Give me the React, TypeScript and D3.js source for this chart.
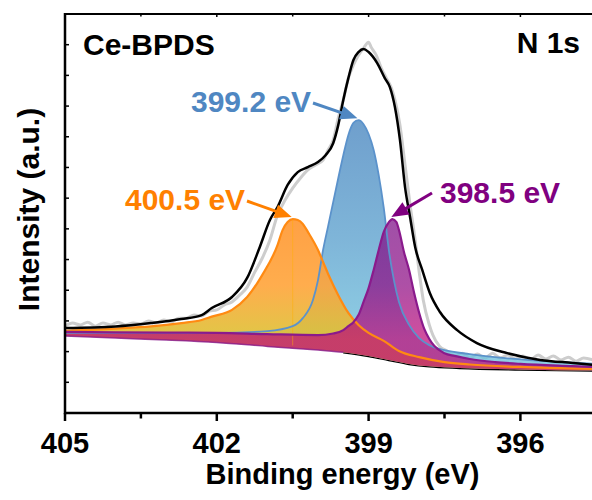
import * as d3 from 'd3';

type Pt = [number, number];

// binding energy (eV), intensity (a.u.)
const rawSpectrum: Pt[] = [
  [405.0, 2.83], [404.85, 2.93], [404.7, 2.87], [404.55, 2.96], [404.4, 2.83], [404.25, 2.93],
  [404.1, 2.87], [403.95, 2.96], [403.8, 2.87], [403.65, 2.93], [403.5, 2.9], [403.35, 3.0],
  [403.2, 2.93], [403.05, 3.03], [402.9, 2.96], [402.75, 3.09], [402.6, 3.09], [402.45, 3.19],
  [402.3, 3.16], [402.15, 3.32], [402.0, 3.36], [401.85, 3.52], [401.7, 3.62], [401.55, 3.84],
  [401.4, 4.1], [401.25, 4.59], [401.1, 5.05], [400.95, 5.64], [400.8, 6.45], [400.65, 6.94],
  [400.5, 7.33], [400.35, 7.65], [400.2, 7.92], [400.05, 8.08], [399.9, 8.24], [399.8, 8.57],
  [399.7, 8.89], [399.6, 9.61], [399.5, 10.2], [399.4, 10.91], [399.3, 11.34], [399.2, 11.66],
  [399.1, 11.89], [399.0, 12.08], [398.95, 11.92], [398.85, 11.66], [398.75, 11.24], [398.65, 10.91],
  [398.55, 10.59], [398.48, 10.2], [398.38, 9.38], [398.28, 8.08], [398.18, 6.78], [398.08, 5.64],
  [398.0, 4.59], [397.92, 3.68], [397.8, 2.87], [397.73, 2.54], [397.6, 2.18], [397.45, 2.02],
  [397.3, 1.86], [397.15, 1.95], [397.0, 1.79], [396.85, 1.92], [396.7, 1.79], [396.55, 1.95],
  [396.4, 1.79], [396.25, 1.89], [396.1, 1.76], [395.95, 1.86], [395.8, 1.73], [395.65, 1.89],
  [395.5, 1.76], [395.35, 1.86], [395.2, 1.73], [395.05, 1.82], [394.9, 1.69], [394.75, 1.79],
  [394.5, 1.69],
];

const envelope: Pt[] = [
  [405.0, 2.77], [404.0, 2.82], [403.3, 2.93], [402.7, 3.06], [402.3, 3.19], [402.1, 3.42],
  [401.7, 3.78], [401.4, 4.4], [401.15, 5.41], [400.95, 6.29], [400.8, 6.71], [400.6, 7.43],
  [400.4, 7.85], [400.2, 8.01], [400.0, 8.18], [399.85, 8.4], [399.7, 8.79], [399.6, 9.38],
  [399.5, 10.2], [399.4, 10.91], [399.3, 11.5], [399.2, 11.76], [399.1, 11.86], [399.0, 11.76],
  [398.83, 11.4], [398.68, 10.91], [398.58, 10.62], [398.48, 9.97], [398.38, 8.89], [398.28, 7.36],
  [398.18, 6.38], [398.08, 5.41], [397.94, 4.66], [397.79, 3.91], [397.59, 3.29], [397.25, 2.7],
  [396.86, 2.28], [396.26, 1.95], [395.61, 1.73], [394.96, 1.63], [394.5, 1.56],
];

const background: Pt[] = [
  [405.0, 2.51], [404.0, 2.44], [403.0, 2.38], [402.0, 2.3], [401.0, 2.17], [400.0, 2.05],
  [399.5, 1.98], [399.0, 1.86], [398.6, 1.73], [398.2, 1.6], [397.8, 1.52], [397.2, 1.47],
  [396.0, 1.42], [394.5, 1.38],
];

const peak4005: Pt[] = [
  [405.0, 2.68], [404.0, 2.75], [403.3, 2.82], [402.7, 2.93], [402.3, 3.03], [402.1, 3.14],
  [401.7, 3.36], [401.4, 3.78], [401.1, 4.5], [400.8, 5.47], [400.7, 5.96], [400.6, 6.22],
  [400.5, 6.32], [400.4, 6.29], [400.3, 6.16], [400.2, 5.9], [400.0, 5.31], [399.9, 4.92],
  [399.8, 4.53], [399.6, 3.84], [399.4, 3.26], [399.2, 2.87], [399.0, 2.61], [398.7, 2.35],
  [398.4, 2.02], [398.0, 1.82], [397.5, 1.66], [397.0, 1.58], [396.0, 1.5], [394.5, 1.43],
];

const peak3992: Pt[] = [
  [405.0, 2.61], [402.0, 2.61], [401.0, 2.67], [400.5, 2.83], [400.3, 3.09], [400.1, 3.68],
  [400.0, 4.33], [399.9, 5.31], [399.8, 6.09], [399.7, 6.87], [399.6, 7.65], [399.5, 8.4],
  [399.4, 9.06], [399.3, 9.45], [399.2, 9.54], [399.1, 9.41], [399.0, 9.09], [398.9, 8.57],
  [398.8, 7.75], [398.7, 6.68], [398.6, 5.31], [398.5, 4.33], [398.4, 3.62], [398.2, 2.87],
  [398.0, 2.44], [397.8, 2.21], [397.5, 2.05], [397.0, 1.92], [396.3, 1.79], [395.5, 1.69],
  [394.5, 1.6],
];

const peak3985: Pt[] = [
  [405.0, 2.64], [403.0, 2.62], [402.0, 2.61], [401.0, 2.57], [400.0, 2.54], [399.7, 2.59],
  [399.5, 2.7], [399.4, 2.83], [399.3, 2.96], [399.2, 3.19], [399.1, 3.62], [399.0, 4.07],
  [398.9, 4.66], [398.8, 5.31], [398.7, 5.9], [398.6, 6.22], [398.53, 6.32], [398.45, 6.22],
  [398.4, 5.96], [398.3, 5.24], [398.2, 4.66], [398.1, 3.91], [398.0, 3.26], [397.9, 2.74],
  [397.8, 2.41], [397.7, 2.18], [397.5, 1.95], [397.3, 1.86], [397.0, 1.76], [396.5, 1.66],
  [396.0, 1.6], [395.0, 1.53], [394.5, 1.5],
];

const xMajorTicks = [405, 402, 399, 396];
const xMinorTicks = [403.5, 400.5, 397.5];
const yTicks = [1, 2, 3, 4, 5, 6, 7, 8, 9, 10, 11, 12];

const FONT = 'Liberation Sans, Arial, Helvetica, sans-serif';

const x = d3.scaleLinear().domain([405, 394]).range([65, 65 + 11 * 50.6]);
const y = d3.scaleLinear().domain([0, 13]).range([413, 14]);

const line = d3.line<Pt>()
  .x(d => x(d[0]))
  .y(d => y(d[1]))
  .curve(d3.curveMonotoneX);

function areaPath(pts: Pt[]) {
  const top = line(pts) ?? '';
  const bottom = line([...background].reverse()) ?? '';
  return `${top}L${bottom.slice(1)}Z`;
}

function Arrow({ x1, y1, x2, y2, color }: { x1: number; y1: number; x2: number; y2: number; color: string }) {
  const len = Math.hypot(x2 - x1, y2 - y1);
  const ux = (x2 - x1) / len;
  const uy = (y2 - y1) / len;
  const head = 17;
  const half = 7;
  const bx = x2 - ux * head;
  const by = y2 - uy * head;
  const pts = [
    [x2, y2],
    [bx - uy * half, by + ux * half],
    [bx + uy * half, by - ux * half],
  ].map(p => p.join(',')).join(' ');
  return (
    <g>
      <line x1={x1} y1={y1} x2={bx + ux * 2} y2={by + uy * 2} stroke={color} strokeWidth={3} />
      <polygon points={pts} fill={color} />
    </g>
  );
}

const peaks = [
  { id: 'p3992', data: peak3992, stroke: '#5b92cb', strokeWidth: 1.8, stops: ['#4b87c0', '#5fa3cf', '#72c2dd'], opacity: 0.8 },
  { id: 'p4005', data: peak4005, stroke: '#ff8a12', strokeWidth: 2.2, stops: ['#ff9630', '#ffa43a', '#dcc232'], opacity: 0.9 },
  { id: 'p3985', data: peak3985, stroke: '#8a1a8c', strokeWidth: 2.2, stops: ['#7b0c86', '#8e0c84', '#c00a78'], opacity: 0.72 },
];

const labels = [
  { text: '399.2 eV', color: '#4f87c2', tx: 191, ty: 112, ax: 313, ay: 103, be: 399.2, data: peak3992 },
  { text: '400.5 eV', color: '#ff8000', tx: 125, ty: 210, ax: 247, ay: 201, be: 400.5, data: peak4005 },
  { text: '398.5 eV', color: '#800080', tx: 440, ty: 203, ax: 432, ay: 193, be: 398.53, data: peak3985 },
];

export default function App() {
  const bgVisible = background.filter(d => d[0] <= 399.5);
  return (
    <svg width={592} height={500} style={{ position: 'absolute', left: 0, top: 0, background: '#fff' }}
      fontFamily={FONT}>
      <defs>
        {peaks.map(p => (
          <linearGradient key={p.id} id={`g-${p.id}`} gradientUnits="userSpaceOnUse"
            x1={0} x2={0} y1={y(d3.max(p.data, d => d[1]) ?? 0)} y2={y(2.4)}>
            <stop offset="0" stopColor={p.stops[0]} />
            <stop offset="0.55" stopColor={p.stops[1]} />
            <stop offset="1" stopColor={p.stops[2]} />
          </linearGradient>
        ))}
        <clipPath id="plot">
          <rect x={65} y={14} width={600} height={399} />
        </clipPath>
      </defs>

      <g clipPath="url(#plot)">
        <path d={line(rawSpectrum) ?? ''} fill="none" stroke="#cdcdcd" strokeWidth={3} />
        <path d={line(bgVisible) ?? ''} fill="none" stroke="#000" strokeWidth={2.5} />
        {peaks.map(p => (
          <path key={p.id} d={areaPath(p.data)} fill={`url(#g-${p.id})`} fillOpacity={p.opacity} />
        ))}
        <line x1={x(400.5)} x2={x(400.5)} y1={y(6.3)} y2={y(2.2)} stroke="#ffb000" strokeWidth={0.8} opacity={0.6} />
        {peaks.map(p => (
          <path key={p.id + 's'} d={line(p.data) ?? ''} fill="none" stroke={p.stroke} strokeWidth={p.strokeWidth} />
        ))}
        <path d={line(background.filter(d => d[0] >= 399.3)) ?? ''} fill="none" stroke="#8a1a8c" strokeWidth={1.5} opacity={0.8} />
        <path d={line(envelope) ?? ''} fill="none" stroke="#000" strokeWidth={2.5} />
      </g>

      {/* axes frame */}
      <line x1={65} x2={600} y1={14} y2={14} stroke="#000" strokeWidth={2} />
      <line x1={65} x2={65} y1={13} y2={414.2} stroke="#000" strokeWidth={2.5} />
      <line x1={64} x2={600} y1={413} y2={413} stroke="#000" strokeWidth={2.5} />

      {yTicks.map(t => (
        <line key={t} x1={65} x2={69} y1={y(t)} y2={y(t)} stroke="#000" strokeWidth={1.5} />
      ))}
      {xMajorTicks.map(t => (
        <g key={t}>
          <line x1={x(t)} x2={x(t)} y1={413} y2={421} stroke="#000" strokeWidth={2.5} />
          <line x1={x(t)} x2={x(t)} y1={14} y2={17} stroke="#000" strokeWidth={1.5} />
          <text x={x(t)} y={453} textAnchor="middle" fontSize={29} fontWeight="bold">{t}</text>
        </g>
      ))}
      {xMinorTicks.map(t => (
        <g key={t}>
          <line x1={x(t)} x2={x(t)} y1={413} y2={418.5} stroke="#000" strokeWidth={2.5} />
          <line x1={x(t)} x2={x(t)} y1={14} y2={16.5} stroke="#000" strokeWidth={1.5} />
        </g>
      ))}

      <text x={342.5} y={484} textAnchor="middle" fontSize={29} fontWeight="bold">Binding energy (eV)</text>
      <text transform="translate(39,209.5) rotate(-90)" textAnchor="middle" fontSize={30} fontWeight="bold">
        Intensity (a.u.)
      </text>

      <text x={83} y={55} fontSize={30} fontWeight="bold">Ce-BPDS</text>
      <text x={580} y={53} fontSize={30} fontWeight="bold" textAnchor="end">N 1s</text>

      {labels.map(l => {
        const top = d3.max(l.data, d => d[1]) ?? 0;
        return (
          <g key={l.text}>
            <text x={l.tx} y={l.ty} fill={l.color} fontSize={30} fontWeight="bold">{l.text}</text>
            <Arrow x1={l.ax} y1={l.ay} x2={x(l.be) - 1} y2={y(top) - 2} color={l.color} />
          </g>
        );
      })}
    </svg>
  );
}
